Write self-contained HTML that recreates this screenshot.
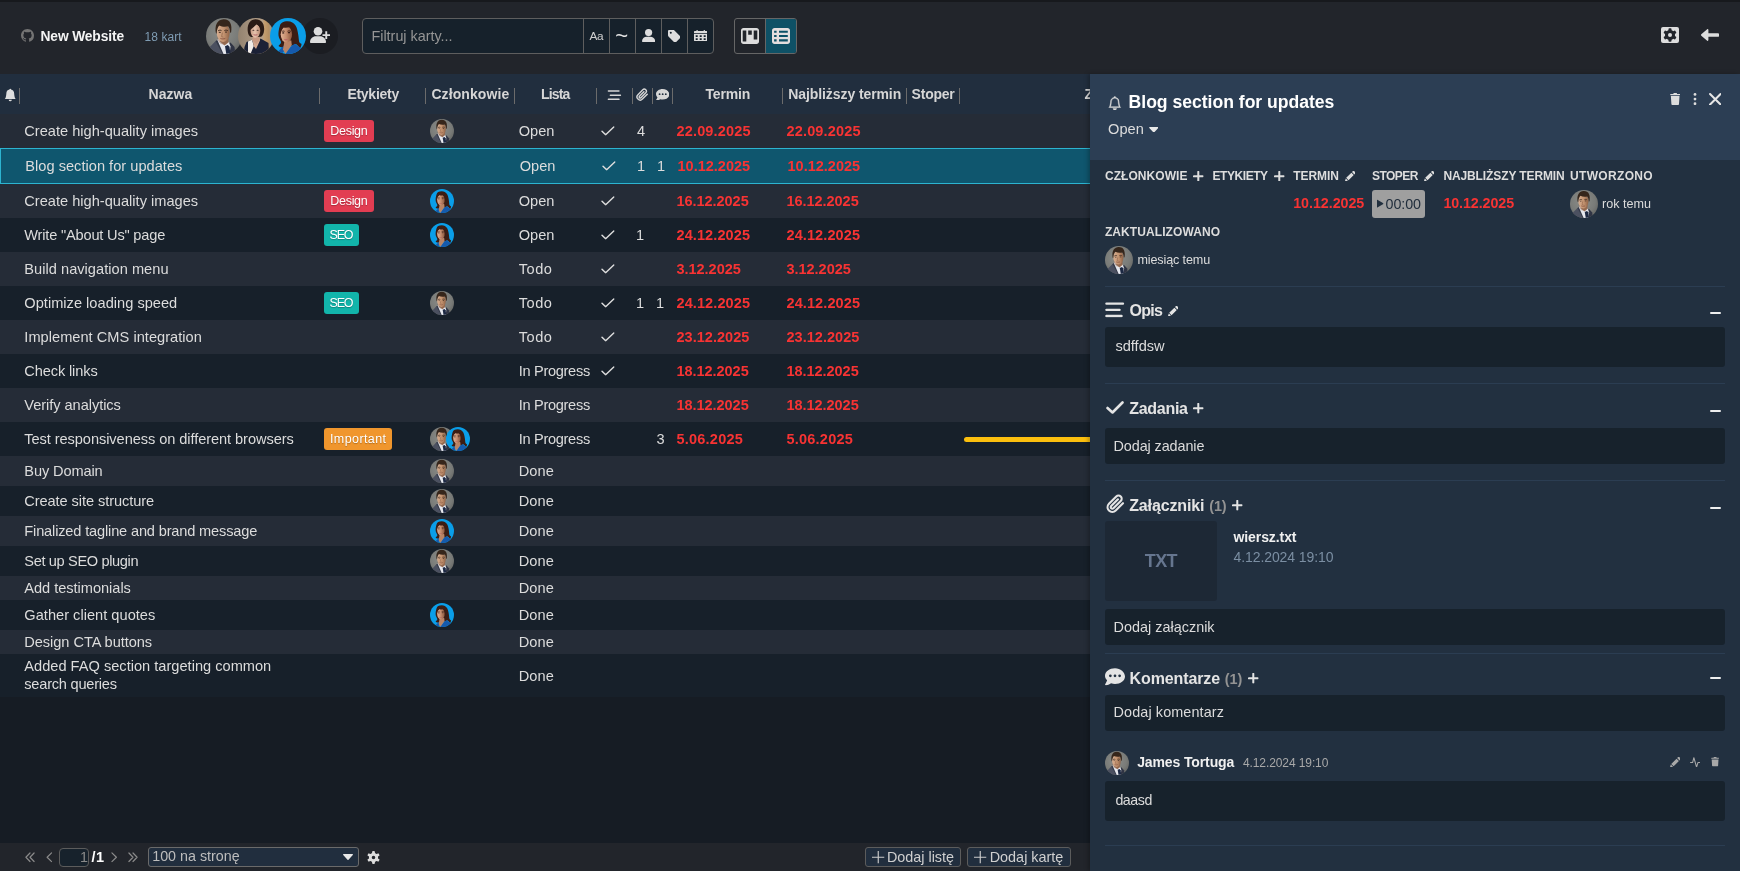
<!DOCTYPE html>
<html lang="pl">
<head>
<meta charset="utf-8">
<title>New Website</title>
<style>
html,body{margin:0;padding:0;background:#161c24}
body{width:1740px;height:871px;overflow:hidden;position:relative;font-family:"Liberation Sans",sans-serif;color:#dcdcdc}
#app{position:absolute;left:0;top:0;width:1740px;height:871px;overflow:hidden;background:#161c24;will-change:transform}
.topstrip{position:absolute;left:0;top:0;width:1740px;height:2px;background:#17191d;z-index:2}
.toolbar{position:absolute;left:0;top:0;width:1740px;height:74px;background:#22252b}
.table{position:absolute;left:0;top:0;width:1090px;height:843px;overflow:hidden}
.pager{position:absolute;left:0;top:0;width:1740px;height:871px;pointer-events:none}
.pager:before{content:"";position:absolute;left:0;top:843px;width:1090px;height:28px;background:#22252b}
.panel{position:absolute;left:0;top:0;width:1740px;height:871px}
.panel:before{content:"";position:absolute;left:1090px;top:74px;width:650px;height:797px;background:#223040;box-shadow:-2px 0 4px rgba(0,0,0,.25)}
.t{position:absolute;white-space:pre;margin:0}
.i{position:absolute;display:block;overflow:hidden;fill:currentColor}
.b{position:absolute;display:block;margin:0;padding:0}
.sep{background:#6b6b6b}
.filter{background:#16212b;border:1px solid #5e5e5e;border-radius:4px;box-sizing:border-box}
.filter .vl{background:#5e5e5e}
.toggle{border:1px solid #666;border-radius:3px;box-sizing:border-box;background:#22252b}
</style>
</head>
<body>
<svg width="0" height="0" style="position:absolute" aria-hidden="true">
<defs>
<radialGradient id="gm" cx="45%" cy="40%" r="75%"><stop offset="0" stop-color="#8c8e8a"/><stop offset=".6" stop-color="#797b78"/><stop offset="1" stop-color="#595a58"/></radialGradient>
<linearGradient id="gw" x1="0" x2="1" y1="0" y2="0"><stop offset="0" stop-color="#93826f"/><stop offset=".45" stop-color="#ab9883"/><stop offset=".68" stop-color="#b59f86"/><stop offset=".74" stop-color="#c39c6d"/><stop offset=".86" stop-color="#b38e62"/><stop offset=".9" stop-color="#a8947c"/><stop offset="1" stop-color="#8d7b68"/></linearGradient>
<linearGradient id="gskin1" x1="0" x2="1" y1="0" y2="0"><stop offset="0" stop-color="#d8ae90"/><stop offset=".55" stop-color="#c2926f"/><stop offset="1" stop-color="#8e6246"/></linearGradient>
<linearGradient id="gskin2" x1="0" x2="1" y1="0" y2="0"><stop offset="0" stop-color="#c79b84"/><stop offset=".45" stop-color="#e6c3ad"/><stop offset="1" stop-color="#b98a72"/></linearGradient>
<linearGradient id="gskin3" x1="0" x2="1" y1="0" y2="0"><stop offset="0" stop-color="#e2b396"/><stop offset=".5" stop-color="#c48c6d"/><stop offset="1" stop-color="#8a553c"/></linearGradient>
<clipPath id="cc"><circle cx="18" cy="18" r="18"/></clipPath>
<symbol id="av1" viewBox="0 0 36 36"><g clip-path="url(#cc)">
<rect width="36" height="36" fill="url(#gm)"/>
<path d="M2 31l7.600-8 4 .5 6 12.500H2z" fill="#4b5060"/>
<path d="M22 26l2.500-1.500 4 4.500.5 4-4 3h-3z" fill="#2f3444"/>
<path d="M9.600 23l1.800-1.300 8.400 14.300h-3.300z" fill="#343948"/>
<path d="M11.300 21.800l3.200-1.800 8.500 4.500 1.500 4-1 7.500h-6z" fill="#e6e8ee"/>
<path d="M19 28.200l2.800-1.300 1.700 1.800 1 7.300h-4.200z" fill="#1c2842"/>
<path d="M12.500 18h9.500l.5 6.500-4 3-4.500-4z" fill="#9c7156"/>
<ellipse cx="17.200" cy="14.800" rx="6.500" ry="9.100" fill="url(#gskin1)"/>
<path d="M10 15.500C8.400 8 10.800 1.500 17.500 1.200c6.300-.3 9 5 7.600 13.300l-.9.300c-.2-3-.8-5.200-2-6.500-2.700.8-6.500.5-8.900-.8-1.600 1.500-2.400 4-2.700 8z" fill="#36261b"/>
<path d="M12 12.900c1-.8 2.500-.9 3.500-.3M18.400 12.600c1.100-.7 2.600-.6 3.500.2" stroke="#33231a" stroke-width=".9" fill="none"/>
<ellipse cx="13.8" cy="14.3" rx="1.1" ry=".5" fill="#2a1d17"/><ellipse cx="20" cy="14.1" rx="1.1" ry=".5" fill="#2a1d17"/>
<path d="M16.400 14.600l-.8 4 1.800.5" stroke="#96694d" stroke-width=".8" fill="none"/>
<path d="M14.400 20.400c1.500.7 3.400.7 4.900 0" stroke="#84503e" stroke-width=".9" fill="none"/>
<path d="M11 17c.5 4 3 7 6 7.200 3-.1 5.600-3 6.400-7-.3 6-3 9.300-6.300 9.300s-5.800-3.500-6.100-9.500z" fill="#8a6048" opacity=".45"/>
</g></symbol>
<symbol id="av2" viewBox="0 0 36 36"><g clip-path="url(#cc)">
<rect width="36" height="36" fill="url(#gw)"/>
<path d="M5.500 36l1-7 2-5 5.500-2.200 3.500 8.200 5-9.500 8 4.500 .5 11z" fill="#1b2136"/>
<path d="M10 23.500l4-1.800 1.800 6.300-3.300 8H10z" fill="#f1ece8"/>
<path d="M14 21.500l1 2 .6 4.500 2.400 3 4-8.500-.8-3z" fill="#d3a78f"/>
<path d="M14.500 17.500h6.500l.3 5-3 3.500-3.500-3z" fill="#c79a83"/>
<path d="M9.700 13c-.6-7 2.600-11.700 8-11.700 5.500 0 9 4.400 8.400 11-.3 3.200-1.300 5.500-3 6.500l-10 .3c-2-.8-3.100-3-3.400-6.100z" fill="#2a1b16"/>
<ellipse cx="17.400" cy="12.800" rx="4.900" ry="6.900" fill="url(#gskin2)"/>
<path d="M12.300 12c-.4-4.500 1.500-7.500 5-7.700 3.300-.2 5.300 2 5.500 6.200-1.200-1.800-2.600-3.300-4.300-4.200-1.500 1.800-3.700 3.400-6.200 5.700z" fill="#2a1b16"/>
<ellipse cx="15.400" cy="12.300" rx="1" ry=".55" fill="#3b2a24"/><ellipse cx="19.600" cy="12.200" rx="1" ry=".55" fill="#3b2a24"/>
<path d="M15.700 16.600c1.100.6 2.500.6 3.600 0" stroke="#a8505a" stroke-width=".9" fill="none"/>
</g></symbol>
<symbol id="av3" viewBox="0 0 36 36"><g clip-path="url(#cc)">
<rect width="36" height="36" fill="#0a9ee8"/>
<path d="M17.700 3.200c-4.500 0-7.300 2-7.800 4.500-1.200 3.500-1.600 7-1.400 9.800.2 2.600 2 4.300 2.500 6.400.4 1.800-2.200 2.800-2.500 4.100 1.500 1.500 6.500 2 8.500 1.500l9-3.500c2 1.500 3.500 3.500 4 4.300.9-1.600 1.800-3.300 1.400-4.600-1-.4-1.800-.9-2.200-1.800-.5-2-.5-4.800-1-7.400-.5-3.500-1.200-6.800-2.700-9-1.600-2.600-4.300-4.300-7.800-4.300z" fill="#3b1d14"/>
<path d="M8.300 33.200l5.200-5.200 2.300 3.200-4.300 4.800zM15.400 36l4.600-6.600 4.600-3.700 6.400 4.600-2.800 4.100-6.200 1.600z" fill="#155aad"/>
<path d="M14.500 22.500h6.800l.5 4.500-6.400 9-2.400-4.500z" fill="#b98466"/>
<ellipse cx="16.400" cy="16.300" rx="5.700" ry="8.300" fill="url(#gskin3)"/>
<path d="M10.6 15c-.3-5 2-8.3 6.4-8.5 4.1-.2 6.700 2.800 7.100 8.500l-1.600 3.200c0-3.900-.9-7-2.800-9-2 .5-4.400.6-6.100.3-1.400 1.400-2.400 3.200-3 5.500z" fill="#3b1d14"/>
<path d="M11.800 13.600c.8-.6 2-.7 2.800-.3M17.500 13.300c1-.6 2.400-.5 3.300.1" stroke="#2e1710" stroke-width=".8" fill="none"/>
<ellipse cx="13.200" cy="14.900" rx="1.100" ry=".6" fill="#2a1510"/><ellipse cx="19" cy="14.700" rx="1.200" ry=".6" fill="#2a1510"/>
<path d="M14 21c1.200.8 2.800.8 3.800-.1-.4.900-1.100 1.400-2 1.400s-1.500-.5-1.800-1.300z" fill="#b24a64"/>
</g></symbol>
<symbol id="i-gh" viewBox="0 0 16 16"><path d="M8 0C3.58 0 0 3.58 0 8c0 3.540 2.290 6.530 5.470 7.590.4.070.55-.17.55-.38 0-.19-.010-.82-.010-1.490-2.010.37-2.530-.49-2.690-.94-.090-.23-.48-.94-.82-1.130-.28-.15-.68-.52-.010-.53.63-.010 1.080.58 1.230.82.72 1.210 1.870.87 2.330.66.070-.52.28-.87.51-1.070-1.780-.2-3.640-.89-3.640-3.950 0-.87.31-1.590.82-2.150-.080-.2-.36-1.020.080-2.120 0 0 .67-.21 2.200.82.640-.18 1.320-.27 2-.27s1.360.090 2 .27c1.530-1.040 2.200-.82 2.200-.82.440 1.100.16 1.920.080 2.120.51.56.82 1.270.82 2.150 0 3.070-1.870 3.750-3.650 3.950.29.25.54.73.54 1.480 0 1.070-.010 1.930-.010 2.200 0 .21.15.46.55.38A8.013 8.013 0 0 0 16 8c0-4.420-3.580-8-8-8z"/></symbol>
<symbol id="i-bell" viewBox="0 0 16 16"><path d="M8 16a2 2 0 0 0 2-2H6a2 2 0 0 0 2 2zm.995-14.901a1 1 0 1 0-1.990 0A5.002 5.002 0 0 0 3 6c0 1.098-.5 6-2 7h14c-1.500-1-2-5.902-2-7 0-2.420-1.720-4.440-4.005-4.901z"/></symbol>
<symbol id="i-bello" viewBox="0 0 16 16"><path stroke="currentColor" stroke-width=".55" d="M8 16a2 2 0 0 0 2-2H6a2 2 0 0 0 2 2zM8 1.918l-.797.161A4.002 4.002 0 0 0 4 6c0 .628-.134 2.197-.459 3.742-.16.767-.376 1.566-.663 2.258h10.244c-.287-.692-.502-1.490-.663-2.258C12.134 8.197 12 6.628 12 6a4.002 4.002 0 0 0-3.203-3.920L8 1.917zM14.220 12c.223.447.481.801.780 1H1c.299-.199.557-.553.780-1C2.680 10.200 3 6.880 3 6c0-2.420 1.720-4.440 4.005-4.901a1 1 0 1 1 1.990 0A5.002 5.002 0 0 1 13 6c0 .880.320 4.200 1.220 6z"/></symbol>
<symbol id="i-userplus" viewBox="0 0 20 16"><circle cx="8" cy="4.300" r="4.300"/><path d="M0 15.200C0 11.800 2.600 9.300 6 9.300h4c3.400 0 6 2.500 6 5.900 0 .5-.3.800-.8.800H.8c-.5 0-.8-.3-.8-.8z"/><path d="M15.300 4.300h1.900v2.900h2.800v1.900h-2.800V12h-1.900V9.100h-2.800V7.200h2.800z"/></symbol>
<symbol id="i-user" viewBox="0 0 13.2 13"><circle cx="6.600" cy="3.600" r="3.600"/><path d="M0 12.300C0 9.800 2 7.800 4.800 7.800h3.600c2.800 0 4.800 2 4.800 4.500 0 .4-.3.700-.7.700H.7c-.4 0-.7-.3-.7-.7z"/></symbol>
<symbol id="i-tag" viewBox="0 0 16 16"><path fill-rule="evenodd" d="M0 1.500C0 .700.700 0 1.500 0h5.400c.5 0 1 .2 1.400.6l7.100 7.100c.8.800.8 2 0 2.800l-4.900 4.900c-.8.800-2 .8-2.800 0L.6 8.300C.2 7.900 0 7.400 0 6.900zM3.600 2.300a1.300 1.300 0 1 0 0 2.600 1.300 1.300 0 0 0 0-2.600z"/></symbol>
<symbol id="i-cal" viewBox="0 0 13.4 11.2"><path fill-rule="evenodd" d="M2.500 0h1.200v1h6V0h1.200v1h1.500c.6 0 1 .4 1 1v1.200H0V2c0-.6.400-1 1-1h1.500zM0 3.900h13.400v6.300c0 .6-.4 1-1 1H1c-.6 0-1-.4-1-1zM1.700 5.200v1.800h2V5.200zM5.700 5.200v1.800h2V5.200zM9.700 5.200v1.800h2V5.200zM1.700 8.200v1.800h2V8.200zM5.700 8.200v1.800h2V8.200zM9.700 8.200v1.800h2V8.200z"/></symbol>
<symbol id="i-board" viewBox="0 0 18 16"><path fill-rule="evenodd" d="M2.500 0h13C16.900 0 18 1.100 18 2.500v11c0 1.400-1.100 2.500-2.500 2.500h-13C1.100 16 0 14.900 0 13.500v-11C0 1.100 1.100 0 2.500 0zM1.700 2.500v11h3.600v-11zM7.200 2.500v4.200h3.600V2.500zM12.700 2.500v9h3.600v-9z"/></symbol>
<symbol id="i-list" viewBox="0 0 18 16"><path fill-rule="evenodd" d="M2.500 0h13C16.900 0 18 1.100 18 2.500v11c0 1.400-1.100 2.500-2.500 2.500h-13C1.100 16 0 14.900 0 13.500v-11C0 1.100 1.100 0 2.500 0zM2.100 2.700v2.100h2.500V2.700zM7 2.700v2.100h8.800V2.700zM2.100 7v2.100h2.500V7zM7 7v2.100h8.800V7zM2.100 11.300v2.100h2.500v-2.100zM7 11.300v2.100h8.800v-2.100z"/></symbol>
<symbol id="i-gearbox" viewBox="0 0 18 16"><path fill-rule="evenodd" d="M2 0h14a2 2 0 0 1 2 2v12a2 2 0 0 1-2 2H2a2 2 0 0 1-2-2V2a2 2 0 0 1 2-2zM14.00 8.00L13.99 7.74L13.97 7.48L13.94 7.22L13.95 6.95L14.65 6.49L15.31 5.95L15.25 5.60L15.12 5.27L14.97 4.96L14.80 4.65L14.62 4.35L14.42 4.06L14.21 3.78L13.93 3.56L13.14 3.86L12.39 4.24L12.15 4.11L11.94 3.95L11.72 3.81L11.50 3.67L11.27 3.54L11.03 3.43L10.79 3.33L10.56 3.19L10.51 2.35L10.38 1.51L10.05 1.38L9.70 1.34L9.35 1.31L9.00 1.30L8.65 1.31L8.30 1.34L7.95 1.38L7.62 1.51L7.49 2.35L7.44 3.19L7.21 3.33L6.97 3.43L6.73 3.54L6.50 3.67L6.28 3.81L6.06 3.95L5.85 4.11L5.61 4.24L4.86 3.86L4.07 3.56L3.79 3.78L3.58 4.06L3.38 4.35L3.20 4.65L3.03 4.96L2.88 5.27L2.75 5.60L2.69 5.95L3.35 6.49L4.05 6.95L4.06 7.22L4.03 7.48L4.01 7.74L4.00 8.00L4.01 8.26L4.03 8.52L4.06 8.78L4.05 9.05L3.35 9.51L2.69 10.05L2.75 10.40L2.88 10.73L3.03 11.04L3.20 11.35L3.38 11.65L3.58 11.94L3.79 12.22L4.07 12.44L4.86 12.14L5.61 11.76L5.85 11.89L6.06 12.05L6.28 12.19L6.50 12.33L6.73 12.46L6.97 12.57L7.21 12.67L7.44 12.81L7.49 13.65L7.62 14.49L7.95 14.62L8.30 14.66L8.65 14.69L9.00 14.70L9.35 14.69L9.70 14.66L10.05 14.62L10.38 14.49L10.51 13.65L10.56 12.81L10.79 12.67L11.03 12.57L11.27 12.46L11.50 12.33L11.72 12.19L11.94 12.05L12.15 11.89L12.39 11.76L13.14 12.14L13.93 12.44L14.21 12.22L14.42 11.94L14.62 11.65L14.80 11.35L14.97 11.04L15.12 10.73L15.25 10.40L15.31 10.05L14.65 9.51L13.95 9.05L13.94 8.78L13.97 8.52L13.99 8.26z"/><circle cx="9" cy="8" r="2"/></symbol>
<symbol id="i-arrowl" viewBox="0 0 18 12"><path d="M6.200.3c.5-.5 1.200-.1 1.200.6v3.300h9.700c.5 0 .9.400.9.900v1.800c0 .5-.4.900-.9.900H7.400v3.300c0 .7-.7 1.100-1.200.6L.3 6.700c-.4-.4-.4-1 0-1.400z"/></symbol>
<symbol id="i-check" viewBox="0 0 14 10"><path d="M1 5.300l3.700 3.700L13 1" fill="none" stroke="currentColor" stroke-width="1.500" stroke-linecap="round" stroke-linejoin="round"/></symbol>
<symbol id="i-checkb" viewBox="0 0 18 13"><path d="M1.500 7l5 4.500L16.500 1.500" fill="none" stroke="currentColor" stroke-width="2.600" stroke-linecap="round" stroke-linejoin="round"/></symbol>
<symbol id="i-bars" viewBox="0 0 14 10"><path d="M1.4 1h10.2M3.3 5h9.800M1.4 9h10.2" fill="none" stroke="currentColor" stroke-width="1.5" stroke-linecap="round"/></symbol>
<symbol id="i-barsb" viewBox="0 0 20 16"><path d="M1.200 1.600h17M1.200 8h13.500M1.200 14.400h15.500" fill="none" stroke="currentColor" stroke-width="2.400" stroke-linecap="round"/></symbol>
<symbol id="i-clip" viewBox="0 0 24 24"><path d="M21.440 11.050l-9.190 9.190a6 6 0 0 1-8.490-8.490l9.190-9.190a4 4 0 0 1 5.660 5.660l-9.200 9.190a2 2 0 0 1-2.830-2.830l8.490-8.480" fill="none" stroke="currentColor" stroke-width="2.7" stroke-linecap="round" stroke-linejoin="round"/></symbol>
<symbol id="i-comment" viewBox="0 0 16 14"><path fill-rule="evenodd" d="M8 0C3.600 0 0 2.700 0 6c0 1.400.6 2.700 1.700 3.700C1.300 11.200.2 12.600.2 12.700c-.2.200-.2.400-.1.600.1.200.3.300.5.300 2 0 3.500-.9 4.300-1.500 1 .3 2 .5 3.100.5 4.400 0 8-2.700 8-6S12.400 0 8 0zM4.300 5a1.100 1.100 0 1 0 0 2.200 1.100 1.100 0 0 0 0-2.200zM8 5a1.100 1.100 0 1 0 0 2.200A1.100 1.100 0 0 0 8 5zM11.700 5a1.100 1.100 0 1 0 0 2.200 1.100 1.100 0 0 0 0-2.200z"/></symbol>
<symbol id="i-pencil" viewBox="0 0 12 12"><path d="M8.9.4c.5-.5 1.400-.5 1.900 0l.8.8c.5.5.5 1.400 0 1.900l-.8.8-2.700-2.700zM7.400 1.900l2.700 2.700-6 6-2.700-2.700zM.9 8.600l2.500 2.500-2.900.9c-.3.100-.6-.2-.5-.5z"/></symbol>
<symbol id="i-trash" viewBox="0 0 12 14"><path d="M4 .5c.1-.3.400-.5.700-.5h2.600c.3 0 .6.200.7.500l.2.500H11c.5 0 .9.300.9.800s-.4.700-.9.700H1c-.5 0-.9-.2-.9-.7S.5 1 1 1h2.800zM1 3.500h10l-.6 9.200c0 .7-.6 1.300-1.300 1.300H2.900c-.7 0-1.300-.6-1.300-1.300z"/></symbol>
<symbol id="i-dots" viewBox="0 0 4 14"><circle cx="2" cy="1.700" r="1.600"/><circle cx="2" cy="7" r="1.600"/><circle cx="2" cy="12.300" r="1.600"/></symbol>
<symbol id="i-x" viewBox="0 0 12 12"><path d="M1 1l10 10M11 1L1 11" fill="none" stroke="currentColor" stroke-width="1.900" stroke-linecap="round"/></symbol>
<symbol id="i-plus" viewBox="0 0 10 10"><path d="M5 .8v8.400M.8 5h8.400" fill="none" stroke="currentColor" stroke-width="1.900" stroke-linecap="round"/></symbol>
<symbol id="i-plusl" viewBox="0 0 12 12"><path d="M6 0v12M0 6h12" fill="none" stroke="currentColor" stroke-width="1.100"/></symbol>
<symbol id="i-caret" viewBox="0 0 10 6"><path d="M.6 0h8.800c.5 0 .8.600.4 1L5.500 5.700c-.3.300-.7.300-1 0L.2 1C-.2.600.1 0 .6 0z"/></symbol>
<symbol id="i-play" viewBox="0 0 8 10"><path d="M.4.300C.2.100 0 .3 0 .6v8.800c0 .3.200.5.400.3l7.300-4.300c.3-.2.300-.6 0-.8z"/></symbol>
<symbol id="i-activity" viewBox="0 0 12 12"><path d="M.6 6.200h2.300l1.400-5.400 3 10.400 1.500-5h2.600" fill="none" stroke="currentColor" stroke-width="1.200" stroke-linecap="round" stroke-linejoin="round"/></symbol>
<symbol id="i-gear" viewBox="0 0 14 14"><path fill-rule="evenodd" d="M11.90 7.00L11.89 6.74L11.87 6.49L11.84 6.23L11.86 5.97L12.70 5.47L13.49 4.89L13.44 4.53L13.30 4.19L13.15 3.87L12.98 3.55L12.79 3.24L12.58 2.94L12.36 2.66L12.07 2.43L11.17 2.83L10.33 3.30L10.08 3.19L9.88 3.04L9.67 2.89L9.45 2.76L9.22 2.63L8.99 2.52L8.76 2.43L8.54 2.27L8.53 1.30L8.42 0.32L8.08 0.18L7.72 0.14L7.36 0.11L7.00 0.10L6.64 0.11L6.28 0.14L5.92 0.18L5.58 0.32L5.47 1.30L5.46 2.27L5.24 2.43L5.01 2.52L4.78 2.63L4.55 2.76L4.33 2.89L4.12 3.04L3.92 3.19L3.67 3.30L2.83 2.83L1.93 2.43L1.64 2.66L1.42 2.94L1.21 3.24L1.02 3.55L0.85 3.87L0.70 4.19L0.56 4.53L0.51 4.89L1.30 5.47L2.14 5.97L2.16 6.23L2.13 6.49L2.11 6.74L2.10 7.00L2.11 7.26L2.13 7.51L2.16 7.77L2.14 8.03L1.30 8.53L0.51 9.11L0.56 9.47L0.70 9.81L0.85 10.13L1.02 10.45L1.21 10.76L1.42 11.06L1.64 11.34L1.93 11.57L2.83 11.17L3.67 10.70L3.92 10.81L4.12 10.96L4.33 11.11L4.55 11.24L4.78 11.37L5.01 11.48L5.24 11.57L5.46 11.73L5.47 12.70L5.58 13.68L5.92 13.82L6.28 13.86L6.64 13.89L7.00 13.90L7.36 13.89L7.72 13.86L8.08 13.82L8.42 13.68L8.53 12.70L8.54 11.73L8.76 11.57L8.99 11.48L9.22 11.37L9.45 11.24L9.67 11.11L9.88 10.96L10.08 10.81L10.33 10.70L11.17 11.17L12.07 11.57L12.36 11.34L12.58 11.06L12.79 10.76L12.98 10.45L13.15 10.13L13.30 9.81L13.44 9.47L13.49 9.11L12.70 8.53L11.86 8.03L11.84 7.77L11.87 7.51L11.89 7.26zM7 5.100a1.900 1.900 0 1 0 0 3.800 1.900 1.900 0 0 0 0-3.800z"/></symbol>
<symbol id="i-chev" viewBox="0 0 7 11"><path d="M6 .8L1.200 5.500 6 10.200" fill="none" stroke="currentColor" stroke-width="1.300" stroke-linecap="round" stroke-linejoin="round"/></symbol>
<symbol id="i-chev2" viewBox="0 0 11 11"><path d="M5.500 .8L1 5.500l4.500 4.700M10 .8L5.500 5.500l4.500 4.700" fill="none" stroke="currentColor" stroke-width="1.300" stroke-linecap="round" stroke-linejoin="round"/></symbol>
</defs>
</svg>

<div id="app">
<div class="topstrip"></div>
<header class="toolbar">
<svg class="i" style="left:20.5px;top:29.3px;width:13px;height:13px;color:#747474;fill:#747474"><use href="#i-gh"/></svg>
<span class="t" style="left:40.5px;top:27.9px;font-size:13.8px;line-height:17px;font-weight:700;color:#f4f4f4;letter-spacing:-0.13px">New Website</span>
<span class="t" style="left:144.6px;top:29.9px;font-size:12px;line-height:14px;color:#7f9cb3;letter-spacing:0.05px">18 kart</span>
<div class="members">
<svg class="i av" style="left:206px;top:18px;width:36px;height:36px"><use href="#av1"/></svg>
<svg class="i av" style="left:238px;top:18px;width:36px;height:36px"><use href="#av2"/></svg>
<div class="b" style="left:302px;top:18px;width:36px;height:36px;background:#1b1d22;border-radius:50%"></div>
<svg class="i av" style="left:270px;top:18px;width:36px;height:36px"><use href="#av3"/></svg>
<svg class="i" style="left:309.8px;top:27.0px;width:20px;height:16px;color:#dddddd;fill:#dddddd"><use href="#i-userplus"/></svg>
</div>
<div class="b filter" style="left:362px;top:18px;width:352px;height:36px">
<i class="b vl" style="left:220px;top:0;width:1px;height:34px"></i>
<i class="b vl" style="left:246px;top:0;width:1px;height:34px"></i>
<i class="b vl" style="left:272px;top:0;width:1px;height:34px"></i>
<i class="b vl" style="left:298px;top:0;width:1px;height:34px"></i>
<i class="b vl" style="left:324px;top:0;width:1px;height:34px"></i>
</div>
<span class="t" style="left:371.5px;top:28.0px;font-size:14.4px;line-height:17px;color:#959595;letter-spacing:-0.02px">Filtruj karty...</span>
<span class="t" style="left:589.6px;top:28.9px;font-size:11.8px;line-height:14px;color:#d0d0d0;letter-spacing:-0.53px">Aa</span>
<span class="t" style="left:615.3px;top:22.6px;font-size:22px;line-height:26px;color:#e6e6e6">~</span>
<svg class="i" style="left:641.9px;top:29.0px;width:13.2px;height:13px;color:#dddddd;fill:#dddddd"><use href="#i-user"/></svg>
<svg class="i" style="left:668.0px;top:29.6px;width:12.4px;height:12.4px;color:#dddddd;fill:#dddddd"><use href="#i-tag"/></svg>
<svg class="i" style="left:693.8px;top:29.9px;width:13.4px;height:11.2px;color:#dddddd;fill:#dddddd"><use href="#i-cal"/></svg>
<div class="b toggle" style="left:734px;top:18px;width:63px;height:36px">
<i class="b" style="left:30px;top:0;width:30px;height:34px;background:#0e5166;border-left:1px solid #666;border-radius:0 2px 2px 0"></i>
</div>
<svg class="i" style="left:741.0px;top:28.0px;width:18px;height:16px;color:#dddddd;fill:#dddddd"><use href="#i-board"/></svg>
<svg class="i" style="left:772.0px;top:28.0px;width:18px;height:16px;color:#e4dede;fill:#e4dede"><use href="#i-list"/></svg>
<svg class="i" style="left:1661.0px;top:27.0px;width:18px;height:16px;color:#dddddd;fill:#dddddd"><use href="#i-gearbox"/></svg>
<svg class="i" style="left:1701.0px;top:29.0px;width:18px;height:12px;color:#dddddd;fill:#dddddd"><use href="#i-arrowl"/></svg>
</header>
<main class="table">
<div class="b thead" style="left:0px;top:74px;width:1090px;height:40px;background:#212e3e"></div>
<svg class="i" style="left:4.0px;top:88.0px;width:12.5px;height:14px;color:#dddddd;fill:#dddddd"><use href="#i-bell"/></svg>
<i class="b sep" style="left:19px;top:88px;width:1px;height:16px"></i>
<i class="b sep" style="left:319px;top:88px;width:1px;height:16px"></i>
<i class="b sep" style="left:425px;top:88px;width:1px;height:16px"></i>
<i class="b sep" style="left:514px;top:88px;width:1px;height:16px"></i>
<i class="b sep" style="left:596px;top:88px;width:1px;height:16px"></i>
<i class="b sep" style="left:632px;top:88px;width:1px;height:16px"></i>
<i class="b sep" style="left:652px;top:88px;width:1px;height:16px"></i>
<i class="b sep" style="left:672px;top:88px;width:1px;height:16px"></i>
<i class="b sep" style="left:782px;top:88px;width:1px;height:16px"></i>
<i class="b sep" style="left:906px;top:88px;width:1px;height:16px"></i>
<i class="b sep" style="left:959px;top:88px;width:1px;height:16px"></i>
<span class="t" style="left:148.5px;top:85.8px;font-size:14px;line-height:17px;font-weight:700;color:#d6d6d6;letter-spacing:0.03px">Nazwa</span>
<span class="t" style="left:347.4px;top:85.8px;font-size:14px;line-height:17px;font-weight:700;color:#d6d6d6;letter-spacing:-0.27px">Etykiety</span>
<span class="t" style="left:431.4px;top:85.8px;font-size:14px;line-height:17px;font-weight:700;color:#d6d6d6;letter-spacing:0.09px">Członkowie</span>
<span class="t" style="left:541.1px;top:85.8px;font-size:14px;line-height:17px;font-weight:700;color:#d6d6d6;letter-spacing:-0.87px">Lista</span>
<svg class="i" style="left:607.2px;top:89.6px;width:14.4px;height:10.3px;color:#d6d6d6;fill:#d6d6d6"><use href="#i-bars"/></svg>
<svg class="i" style="left:636.4px;top:87.8px;width:12.6px;height:13.6px;color:#d6d6d6;fill:#d6d6d6"><use href="#i-clip"/></svg>
<svg class="i" style="left:655.8px;top:88.5px;width:13.4px;height:11.8px;color:#d6d6d6;fill:#d6d6d6"><use href="#i-comment"/></svg>
<span class="t" style="left:705.4px;top:85.8px;font-size:14px;line-height:17px;font-weight:700;color:#d6d6d6;letter-spacing:-0.15px">Termin</span>
<span class="t" style="left:788.3px;top:85.8px;font-size:14px;line-height:17px;font-weight:700;color:#d6d6d6;letter-spacing:-0.09px">Najbliższy termin</span>
<span class="t" style="left:911.6px;top:85.8px;font-size:14px;line-height:17px;font-weight:700;color:#d6d6d6;letter-spacing:-0.23px">Stoper</span>
<span class="t" style="left:1084.5px;top:85.8px;font-size:14px;line-height:17px;font-weight:700;color:#d6d6d6">Z</span>
<div class="b row" style="left:0px;top:114px;width:1090px;height:34px;background:#252c37"></div>
<span class="t" style="left:24.3px;top:122.4px;font-size:14.6px;line-height:18px;color:#dcdcdc;letter-spacing:0.01px">Create high-quality images</span>
<div class="b lab" style="left:324px;top:120px;width:50px;height:22px;background:#e23d52;border-radius:3px"></div>
<span class="t" style="left:330.3px;top:123.8px;font-size:12.5px;line-height:15px;color:#ffffff;letter-spacing:-0.30px;text-shadow:0 1px 1px rgba(0,0,0,.28)">Design</span>
<svg class="i av" style="left:430px;top:119px;width:24px;height:24px"><use href="#av1"/></svg>
<span class="t" style="left:518.7px;top:122.4px;font-size:14.6px;line-height:18px;color:#dcdcdc;letter-spacing:-0.01px">Open</span>
<svg class="i" style="left:601.3px;top:126.4px;width:13.8px;height:9.8px;color:#dcdcdc;fill:#dcdcdc"><use href="#i-check"/></svg>
<span class="t" style="left:637.0px;top:122.4px;font-size:14.6px;line-height:18px;color:#dcdcdc">4</span>
<span class="t" style="left:676.5px;top:123.0px;font-size:14.5px;line-height:17px;font-weight:700;color:#f83333;letter-spacing:0.16px">22.09.2025</span>
<span class="t" style="left:786.5px;top:123.0px;font-size:14.5px;line-height:17px;font-weight:700;color:#f83333;letter-spacing:0.16px">22.09.2025</span>
<div class="b row" style="left:0px;top:148px;width:1100px;height:36px;background:#0f566e;border:1px solid #2cb4d0;box-sizing:border-box"></div>
<span class="t" style="left:25.3px;top:157.4px;font-size:14.6px;line-height:18px;color:#dcdcdc;letter-spacing:0.02px">Blog section for updates</span>
<span class="t" style="left:519.7px;top:157.4px;font-size:14.6px;line-height:18px;color:#dcdcdc;letter-spacing:-0.01px">Open</span>
<svg class="i" style="left:602.3px;top:161.4px;width:13.8px;height:9.8px;color:#dcdcdc;fill:#dcdcdc"><use href="#i-check"/></svg>
<span class="t" style="left:637.0px;top:157.4px;font-size:14.6px;line-height:18px;color:#dcdcdc">1</span>
<span class="t" style="left:657.0px;top:157.4px;font-size:14.6px;line-height:18px;color:#dcdcdc">1</span>
<span class="t" style="left:677.5px;top:158.0px;font-size:14.5px;line-height:17px;font-weight:700;color:#f83333;letter-spacing:0.01px">10.12.2025</span>
<span class="t" style="left:787.5px;top:158.0px;font-size:14.5px;line-height:17px;font-weight:700;color:#f83333;letter-spacing:0.01px">10.12.2025</span>
<div class="b row" style="left:0px;top:184px;width:1090px;height:34px;background:#252c37"></div>
<span class="t" style="left:24.3px;top:192.4px;font-size:14.6px;line-height:18px;color:#dcdcdc;letter-spacing:0.01px">Create high-quality images</span>
<div class="b lab" style="left:324px;top:190px;width:50px;height:22px;background:#e23d52;border-radius:3px"></div>
<span class="t" style="left:330.3px;top:193.8px;font-size:12.5px;line-height:15px;color:#ffffff;letter-spacing:-0.30px;text-shadow:0 1px 1px rgba(0,0,0,.28)">Design</span>
<svg class="i av" style="left:430px;top:189px;width:24px;height:24px"><use href="#av3"/></svg>
<span class="t" style="left:518.7px;top:192.4px;font-size:14.6px;line-height:18px;color:#dcdcdc;letter-spacing:-0.01px">Open</span>
<svg class="i" style="left:601.3px;top:196.4px;width:13.8px;height:9.8px;color:#dcdcdc;fill:#dcdcdc"><use href="#i-check"/></svg>
<span class="t" style="left:676.5px;top:193.0px;font-size:14.5px;line-height:17px;font-weight:700;color:#f83333;letter-spacing:-0.04px">16.12.2025</span>
<span class="t" style="left:786.5px;top:193.0px;font-size:14.5px;line-height:17px;font-weight:700;color:#f83333;letter-spacing:-0.04px">16.12.2025</span>
<div class="b row" style="left:0px;top:218px;width:1090px;height:34px;background:#17202a"></div>
<span class="t" style="left:24.3px;top:226.4px;font-size:14.6px;line-height:18px;color:#dcdcdc;letter-spacing:-0.19px">Write "About Us" page</span>
<div class="b lab" style="left:324px;top:224px;width:35px;height:22px;background:#12b5ab;border-radius:3px"></div>
<span class="t" style="left:329.6px;top:227.8px;font-size:12.5px;line-height:15px;color:#ffffff;letter-spacing:-1.30px;text-shadow:0 1px 1px rgba(0,0,0,.28)">SEO</span>
<svg class="i av" style="left:430px;top:223px;width:24px;height:24px"><use href="#av3"/></svg>
<span class="t" style="left:518.7px;top:226.4px;font-size:14.6px;line-height:18px;color:#dcdcdc;letter-spacing:-0.01px">Open</span>
<svg class="i" style="left:601.3px;top:230.4px;width:13.8px;height:9.8px;color:#dcdcdc;fill:#dcdcdc"><use href="#i-check"/></svg>
<span class="t" style="left:636.0px;top:226.4px;font-size:14.6px;line-height:18px;color:#dcdcdc">1</span>
<span class="t" style="left:676.5px;top:227.0px;font-size:14.5px;line-height:17px;font-weight:700;color:#f83333;letter-spacing:0.10px">24.12.2025</span>
<span class="t" style="left:786.5px;top:227.0px;font-size:14.5px;line-height:17px;font-weight:700;color:#f83333;letter-spacing:0.10px">24.12.2025</span>
<div class="b row" style="left:0px;top:252px;width:1090px;height:34px;background:#252c37"></div>
<span class="t" style="left:24.3px;top:260.4px;font-size:14.6px;line-height:18px;color:#dcdcdc;letter-spacing:0.03px">Build navigation menu</span>
<span class="t" style="left:518.7px;top:260.4px;font-size:14.6px;line-height:18px;color:#dcdcdc;letter-spacing:0.55px">Todo</span>
<svg class="i" style="left:601.3px;top:264.4px;width:13.8px;height:9.8px;color:#dcdcdc;fill:#dcdcdc"><use href="#i-check"/></svg>
<span class="t" style="left:676.5px;top:261.0px;font-size:14.5px;line-height:17px;font-weight:700;color:#f83333;letter-spacing:-0.03px">3.12.2025</span>
<span class="t" style="left:786.5px;top:261.0px;font-size:14.5px;line-height:17px;font-weight:700;color:#f83333;letter-spacing:-0.03px">3.12.2025</span>
<div class="b row" style="left:0px;top:286px;width:1090px;height:34px;background:#17202a"></div>
<span class="t" style="left:24.3px;top:294.4px;font-size:14.6px;line-height:18px;color:#dcdcdc;letter-spacing:0.02px">Optimize loading speed</span>
<div class="b lab" style="left:324px;top:292px;width:35px;height:22px;background:#12b5ab;border-radius:3px"></div>
<span class="t" style="left:329.6px;top:295.8px;font-size:12.5px;line-height:15px;color:#ffffff;letter-spacing:-1.30px;text-shadow:0 1px 1px rgba(0,0,0,.28)">SEO</span>
<svg class="i av" style="left:430px;top:291px;width:24px;height:24px"><use href="#av1"/></svg>
<span class="t" style="left:518.7px;top:294.4px;font-size:14.6px;line-height:18px;color:#dcdcdc;letter-spacing:0.55px">Todo</span>
<svg class="i" style="left:601.3px;top:298.4px;width:13.8px;height:9.8px;color:#dcdcdc;fill:#dcdcdc"><use href="#i-check"/></svg>
<span class="t" style="left:636.0px;top:294.4px;font-size:14.6px;line-height:18px;color:#dcdcdc">1</span>
<span class="t" style="left:656.0px;top:294.4px;font-size:14.6px;line-height:18px;color:#dcdcdc">1</span>
<span class="t" style="left:676.5px;top:295.0px;font-size:14.5px;line-height:17px;font-weight:700;color:#f83333;letter-spacing:0.10px">24.12.2025</span>
<span class="t" style="left:786.5px;top:295.0px;font-size:14.5px;line-height:17px;font-weight:700;color:#f83333;letter-spacing:0.10px">24.12.2025</span>
<div class="b row" style="left:0px;top:320px;width:1090px;height:34px;background:#252c37"></div>
<span class="t" style="left:24.3px;top:328.4px;font-size:14.6px;line-height:18px;color:#dcdcdc;letter-spacing:0.03px">Implement CMS integration</span>
<span class="t" style="left:518.7px;top:328.4px;font-size:14.6px;line-height:18px;color:#dcdcdc;letter-spacing:0.55px">Todo</span>
<svg class="i" style="left:601.3px;top:332.4px;width:13.8px;height:9.8px;color:#dcdcdc;fill:#dcdcdc"><use href="#i-check"/></svg>
<span class="t" style="left:676.5px;top:329.0px;font-size:14.5px;line-height:17px;font-weight:700;color:#f83333;letter-spacing:0.03px">23.12.2025</span>
<span class="t" style="left:786.5px;top:329.0px;font-size:14.5px;line-height:17px;font-weight:700;color:#f83333;letter-spacing:0.03px">23.12.2025</span>
<div class="b row" style="left:0px;top:354px;width:1090px;height:34px;background:#17202a"></div>
<span class="t" style="left:24.3px;top:362.4px;font-size:14.6px;line-height:18px;color:#dcdcdc;letter-spacing:-0.12px">Check links</span>
<span class="t" style="left:518.7px;top:362.4px;font-size:14.6px;line-height:18px;color:#dcdcdc;letter-spacing:-0.31px">In Progress</span>
<svg class="i" style="left:601.3px;top:366.4px;width:13.8px;height:9.8px;color:#dcdcdc;fill:#dcdcdc"><use href="#i-check"/></svg>
<span class="t" style="left:676.5px;top:363.0px;font-size:14.5px;line-height:17px;font-weight:700;color:#f83333;letter-spacing:-0.04px">18.12.2025</span>
<span class="t" style="left:786.5px;top:363.0px;font-size:14.5px;line-height:17px;font-weight:700;color:#f83333;letter-spacing:-0.04px">18.12.2025</span>
<div class="b row" style="left:0px;top:388px;width:1090px;height:34px;background:#252c37"></div>
<span class="t" style="left:24.3px;top:396.4px;font-size:14.6px;line-height:18px;color:#dcdcdc;letter-spacing:-0.05px">Verify analytics</span>
<span class="t" style="left:518.7px;top:396.4px;font-size:14.6px;line-height:18px;color:#dcdcdc;letter-spacing:-0.31px">In Progress</span>
<span class="t" style="left:676.5px;top:397.0px;font-size:14.5px;line-height:17px;font-weight:700;color:#f83333;letter-spacing:-0.04px">18.12.2025</span>
<span class="t" style="left:786.5px;top:397.0px;font-size:14.5px;line-height:17px;font-weight:700;color:#f83333;letter-spacing:-0.04px">18.12.2025</span>
<div class="b row" style="left:0px;top:422px;width:1090px;height:34px;background:#17202a"></div>
<span class="t" style="left:24.3px;top:430.4px;font-size:14.6px;line-height:18px;color:#dcdcdc;letter-spacing:-0.07px">Test responsiveness on different browsers</span>
<div class="b lab" style="left:324px;top:428px;width:68px;height:22px;background:#f0962d;border-radius:3px"></div>
<span class="t" style="left:330.0px;top:431.8px;font-size:12.5px;line-height:15px;color:#ffffff;letter-spacing:0.40px;text-shadow:0 1px 1px rgba(0,0,0,.28)">Important</span>
<svg class="i av" style="left:430px;top:427px;width:24px;height:24px"><use href="#av1"/></svg>
<svg class="i av" style="left:446px;top:427px;width:24px;height:24px"><use href="#av3"/></svg>
<span class="t" style="left:518.7px;top:430.4px;font-size:14.6px;line-height:18px;color:#dcdcdc;letter-spacing:-0.31px">In Progress</span>
<span class="t" style="left:656.4px;top:430.4px;font-size:14.6px;line-height:18px;color:#dcdcdc">3</span>
<span class="t" style="left:676.5px;top:431.0px;font-size:14.5px;line-height:17px;font-weight:700;color:#f83333;letter-spacing:0.22px">5.06.2025</span>
<span class="t" style="left:786.5px;top:431.0px;font-size:14.5px;line-height:17px;font-weight:700;color:#f83333;letter-spacing:0.22px">5.06.2025</span>
<div class="b" style="left:964px;top:437px;width:126px;height:5px;background:#fbbf0e;border-radius:2.5px 0 0 2.5px"></div>
<div class="b row" style="left:0px;top:456px;width:1090px;height:30px;background:#252c37"></div>
<span class="t" style="left:24.3px;top:462.4px;font-size:14.6px;line-height:18px;color:#dcdcdc;letter-spacing:-0.12px">Buy Domain</span>
<svg class="i av" style="left:430px;top:459px;width:24px;height:24px"><use href="#av1"/></svg>
<span class="t" style="left:518.7px;top:462.4px;font-size:14.6px;line-height:18px;color:#dcdcdc;letter-spacing:0.13px">Done</span>
<div class="b row" style="left:0px;top:486px;width:1090px;height:30px;background:#17202a"></div>
<span class="t" style="left:24.3px;top:492.4px;font-size:14.6px;line-height:18px;color:#dcdcdc;letter-spacing:-0.08px">Create site structure</span>
<svg class="i av" style="left:430px;top:489px;width:24px;height:24px"><use href="#av1"/></svg>
<span class="t" style="left:518.7px;top:492.4px;font-size:14.6px;line-height:18px;color:#dcdcdc;letter-spacing:0.13px">Done</span>
<div class="b row" style="left:0px;top:516px;width:1090px;height:30px;background:#252c37"></div>
<span class="t" style="left:24.3px;top:522.4px;font-size:14.6px;line-height:18px;color:#dcdcdc;letter-spacing:-0.16px">Finalized tagline and brand message</span>
<svg class="i av" style="left:430px;top:519px;width:24px;height:24px"><use href="#av3"/></svg>
<span class="t" style="left:518.7px;top:522.4px;font-size:14.6px;line-height:18px;color:#dcdcdc;letter-spacing:0.13px">Done</span>
<div class="b row" style="left:0px;top:546px;width:1090px;height:30px;background:#17202a"></div>
<span class="t" style="left:24.3px;top:552.4px;font-size:14.6px;line-height:18px;color:#dcdcdc;letter-spacing:-0.36px">Set up SEO plugin</span>
<svg class="i av" style="left:430px;top:549px;width:24px;height:24px"><use href="#av1"/></svg>
<span class="t" style="left:518.7px;top:552.4px;font-size:14.6px;line-height:18px;color:#dcdcdc;letter-spacing:0.13px">Done</span>
<div class="b row" style="left:0px;top:576px;width:1090px;height:24px;background:#252c37"></div>
<span class="t" style="left:24.3px;top:579.4px;font-size:14.6px;line-height:18px;color:#dcdcdc;letter-spacing:-0.03px">Add testimonials</span>
<span class="t" style="left:518.7px;top:579.4px;font-size:14.6px;line-height:18px;color:#dcdcdc;letter-spacing:0.13px">Done</span>
<div class="b row" style="left:0px;top:600px;width:1090px;height:30px;background:#17202a"></div>
<span class="t" style="left:24.3px;top:606.4px;font-size:14.6px;line-height:18px;color:#dcdcdc;letter-spacing:0.02px">Gather client quotes</span>
<svg class="i av" style="left:430px;top:603px;width:24px;height:24px"><use href="#av3"/></svg>
<span class="t" style="left:518.7px;top:606.4px;font-size:14.6px;line-height:18px;color:#dcdcdc;letter-spacing:0.13px">Done</span>
<div class="b row" style="left:0px;top:630px;width:1090px;height:24px;background:#252c37"></div>
<span class="t" style="left:24.3px;top:633.4px;font-size:14.6px;line-height:18px;color:#dcdcdc;letter-spacing:-0.05px">Design CTA buttons</span>
<span class="t" style="left:518.7px;top:633.4px;font-size:14.6px;line-height:18px;color:#dcdcdc;letter-spacing:0.13px">Done</span>
<div class="b row" style="left:0px;top:654px;width:1090px;height:43px;background:#17202a"></div>
<span class="t" style="left:24.3px;top:657.0px;font-size:14.6px;line-height:18px;color:#dcdcdc;letter-spacing:0.01px">Added FAQ section targeting common</span>
<span class="t" style="left:24.3px;top:675.0px;font-size:14.6px;line-height:18px;color:#dcdcdc;letter-spacing:-0.23px">search queries</span>
<span class="t" style="left:518.7px;top:666.9px;font-size:14.6px;line-height:18px;color:#dcdcdc;letter-spacing:0.13px">Done</span>
</main>
<footer class="pager">
<svg class="i" style="left:24.5px;top:852.0px;width:10px;height:10.5px;color:#8a8a8a;fill:#8a8a8a"><use href="#i-chev2"/></svg>
<svg class="i" style="left:46.0px;top:852.0px;width:6.5px;height:10.5px;color:#8a8a8a;fill:#8a8a8a"><use href="#i-chev"/></svg>
<div class="b" style="left:59px;top:848px;width:30px;height:19px;background:#17222c;border:1px solid #5c5c5c;border-radius:4px;box-sizing:border-box"></div>
<span class="t" style="left:80.0px;top:848.8px;font-size:14.3px;line-height:17px;color:#8a8a8a">1</span>
<span class="t" style="left:91.4px;top:848.8px;font-size:14.5px;line-height:17px;font-weight:700;color:#ffffff;letter-spacing:0.51px">/1</span>
<svg class="i" style="left:110.5px;top:852.0px;width:6.5px;height:10.5px;color:#8a8a8a;fill:#8a8a8a;transform:scaleX(-1)"><use href="#i-chev"/></svg>
<svg class="i" style="left:128.3px;top:852.0px;width:10px;height:10.5px;color:#8a8a8a;fill:#8a8a8a;transform:scaleX(-1)"><use href="#i-chev2"/></svg>
<div class="b" style="left:148px;top:847px;width:211px;height:20px;background:#212e3e;border:1px solid #6a6a6a;border-radius:3px;box-sizing:border-box"></div>
<span class="t" style="left:152.2px;top:847.7px;font-size:14.3px;line-height:17px;color:#bdbdbd">100 na stronę</span>
<svg class="i" style="left:343.0px;top:853.9px;width:10px;height:6px;color:#e8e8e8;fill:#e8e8e8"><use href="#i-caret"/></svg>
<svg class="i" style="left:367.0px;top:851.3px;width:13px;height:13px;color:#dddddd;fill:#dddddd"><use href="#i-gear"/></svg>
<div class="b" style="left:865px;top:847px;width:96px;height:20px;background:#212e3e;border:1px solid #5c5c5c;border-radius:3px;box-sizing:border-box"></div>
<div class="b" style="left:967px;top:847px;width:104px;height:20px;background:#212e3e;border:1px solid #5c5c5c;border-radius:3px;box-sizing:border-box"></div>
<svg class="i" style="left:872.0px;top:851.0px;width:12.5px;height:12.5px;color:#cccccc;fill:#cccccc"><use href="#i-plusl"/></svg>
<span class="t" style="left:887.0px;top:848.8px;font-size:14.4px;line-height:17px;color:#cfcfcf;letter-spacing:-0.02px">Dodaj listę</span>
<svg class="i" style="left:974.0px;top:851.0px;width:12.5px;height:12.5px;color:#cccccc;fill:#cccccc"><use href="#i-plusl"/></svg>
<span class="t" style="left:989.7px;top:848.8px;font-size:14.4px;line-height:17px;color:#cfcfcf;letter-spacing:0.01px">Dodaj kartę</span>
</footer>
<aside class="panel">
<div class="b phead" style="left:1090px;top:74px;width:650px;height:86px;background:#2c3e54"></div>
<svg class="i" style="left:1108.3px;top:95.6px;width:13.6px;height:14.6px;color:#dddddd;fill:#dddddd"><use href="#i-bello"/></svg>
<span class="t" style="left:1128.6px;top:91.9px;font-size:17.6px;line-height:21px;font-weight:700;color:#ffffff;letter-spacing:-0.02px">Blog section for updates</span>
<span class="t" style="left:1108.1px;top:120.2px;font-size:14.6px;line-height:18px;color:#dcdcdc;letter-spacing:-0.01px">Open</span>
<svg class="i" style="left:1148.5px;top:126.5px;width:9.6px;height:5.6px;color:#e8e8e8;fill:#e8e8e8"><use href="#i-caret"/></svg>
<svg class="i" style="left:1669.8px;top:93.0px;width:10.4px;height:12.2px;color:#dddddd;fill:#dddddd"><use href="#i-trash"/></svg>
<svg class="i" style="left:1693.0px;top:93.0px;width:4px;height:12.2px;color:#dddddd;fill:#dddddd"><use href="#i-dots"/></svg>
<svg class="i" style="left:1708.6px;top:92.8px;width:12.6px;height:12.6px;color:#e6e6e6;fill:#e6e6e6"><use href="#i-x"/></svg>
<span class="t" style="left:1104.9px;top:169.1px;font-size:12px;line-height:14px;font-weight:700;color:#dddddd;letter-spacing:0.07px">CZŁONKOWIE</span>
<svg class="i" style="left:1193.0px;top:170.6px;width:10.6px;height:10.6px;color:#dddddd;fill:#dddddd"><use href="#i-plus"/></svg>
<span class="t" style="left:1212.5px;top:169.1px;font-size:12px;line-height:14px;font-weight:700;color:#dddddd;letter-spacing:-0.44px">ETYKIETY</span>
<svg class="i" style="left:1274.0px;top:170.6px;width:10.6px;height:10.6px;color:#dddddd;fill:#dddddd"><use href="#i-plus"/></svg>
<span class="t" style="left:1293.2px;top:169.1px;font-size:12px;line-height:14px;font-weight:700;color:#dddddd;letter-spacing:-0.06px">TERMIN</span>
<svg class="i" style="left:1345.0px;top:170.6px;width:10.4px;height:10.4px;color:#dddddd;fill:#dddddd"><use href="#i-pencil"/></svg>
<span class="t" style="left:1372.0px;top:169.1px;font-size:12px;line-height:14px;font-weight:700;color:#dddddd;letter-spacing:-0.53px">STOPER</span>
<svg class="i" style="left:1424.0px;top:170.6px;width:10.4px;height:10.4px;color:#dddddd;fill:#dddddd"><use href="#i-pencil"/></svg>
<span class="t" style="left:1443.4px;top:169.1px;font-size:12px;line-height:14px;font-weight:700;color:#dddddd;letter-spacing:-0.11px">NAJBLIŻSZY TERMIN</span>
<span class="t" style="left:1570.0px;top:169.1px;font-size:12px;line-height:14px;font-weight:700;color:#dddddd;letter-spacing:0.33px">UTWORZONO</span>
<span class="t" style="left:1293.2px;top:195.2px;font-size:14.3px;line-height:17px;font-weight:700;color:#f83333;letter-spacing:-0.05px">10.12.2025</span>
<div class="b" style="left:1372px;top:190px;width:53px;height:28px;background:#9f9f9f;border-radius:3px"></div>
<svg class="i" style="left:1377.0px;top:199.3px;width:6.6px;height:9.4px;color:#212f3e;fill:#212f3e"><use href="#i-play"/></svg>
<span class="t" style="left:1385.5px;top:195.5px;font-size:14.3px;line-height:17px;color:#1f2c3b;letter-spacing:-0.07px">00:00</span>
<span class="t" style="left:1443.4px;top:195.2px;font-size:14.3px;line-height:17px;font-weight:700;color:#f83333;letter-spacing:-0.09px">10.12.2025</span>
<svg class="i av" style="left:1570px;top:190px;width:28px;height:28px"><use href="#av1"/></svg>
<span class="t" style="left:1602.0px;top:197.2px;font-size:12.6px;line-height:15px;color:#dcdcdc">rok temu</span>
<span class="t" style="left:1104.9px;top:225.0px;font-size:12px;line-height:14px;font-weight:700;color:#dddddd;letter-spacing:0.09px">ZAKTUALIZOWANO</span>
<svg class="i av" style="left:1105px;top:246px;width:28px;height:28px"><use href="#av1"/></svg>
<span class="t" style="left:1137.5px;top:253.2px;font-size:12.6px;line-height:15px;color:#dcdcdc;letter-spacing:-0.14px">miesiąc temu</span>
<div class="b hr" style="left:1105px;top:286px;width:620px;height:1px;background:#2b3d52"></div>
<svg class="i" style="left:1104.9px;top:302.3px;width:20px;height:15.6px;color:#e4e4e4;fill:#e4e4e4"><use href="#i-barsb"/></svg>
<span class="t" style="left:1129.6px;top:300.5px;font-size:16px;line-height:19px;font-weight:700;color:#e4e4e4;letter-spacing:-0.79px">Opis</span>
<svg class="i" style="left:1167.9px;top:305.8px;width:10.4px;height:10.4px;color:#e4e4e4;fill:#e4e4e4"><use href="#i-pencil"/></svg>
<div class="b" style="left:1710px;top:312px;width:10.5px;height:2.4px;background:#eeeeee;border-radius:1px"></div>
<div class="b" style="left:1105px;top:327px;width:620px;height:40px;background:#17222c;border-radius:3px"></div>
<span class="t" style="left:1115.4px;top:336.6px;font-size:14.6px;line-height:18px;color:#dcdcdc;letter-spacing:0.01px">sdffdsw</span>
<div class="b hr" style="left:1105px;top:383px;width:620px;height:1px;background:#2b3d52"></div>
<svg class="i" style="left:1106.0px;top:400.6px;width:18px;height:13px;color:#e4e4e4;fill:#e4e4e4"><use href="#i-checkb"/></svg>
<span class="t" style="left:1129.2px;top:399.0px;font-size:16px;line-height:19px;font-weight:700;color:#e4e4e4;letter-spacing:-0.28px">Zadania</span>
<svg class="i" style="left:1193.0px;top:403.3px;width:10.6px;height:10.6px;color:#e4e4e4;fill:#e4e4e4"><use href="#i-plus"/></svg>
<div class="b" style="left:1710px;top:410px;width:10.5px;height:2.4px;background:#eeeeee;border-radius:1px"></div>
<div class="b" style="left:1105px;top:428px;width:620px;height:35.5px;background:#17222c;border-radius:3px"></div>
<span class="t" style="left:1113.5px;top:437.7px;font-size:14.4px;line-height:17px;color:#dcdcdc;letter-spacing:-0.09px">Dodaj zadanie</span>
<div class="b hr" style="left:1105px;top:480px;width:620px;height:1px;background:#2b3d52"></div>
<svg class="i" style="left:1105.5px;top:493.8px;width:19px;height:20px;color:#e4e4e4;fill:#e4e4e4"><use href="#i-clip"/></svg>
<span class="t" style="left:1129.2px;top:496.0px;font-size:16px;line-height:19px;font-weight:700;color:#e4e4e4;letter-spacing:-0.13px">Załączniki</span>
<span class="t" style="left:1209.3px;top:497.5px;font-size:14.4px;line-height:17px;font-weight:700;color:#939393;letter-spacing:-0.15px">(1)</span>
<svg class="i" style="left:1232.0px;top:500.3px;width:10.6px;height:10.6px;color:#e4e4e4;fill:#e4e4e4"><use href="#i-plus"/></svg>
<div class="b" style="left:1710px;top:507px;width:10.5px;height:2.4px;background:#eeeeee;border-radius:1px"></div>
<div class="b" style="left:1105px;top:521px;width:112px;height:80px;background:#1d2835;border-radius:3px"></div>
<span class="t" style="left:1144.7px;top:550.0px;font-size:18px;line-height:22px;font-weight:700;color:#66768f;letter-spacing:-0.55px">TXT</span>
<span class="t" style="left:1233.5px;top:528.7px;font-size:14px;line-height:17px;font-weight:700;color:#f0f0f0;letter-spacing:-0.09px">wiersz.txt</span>
<span class="t" style="left:1233.5px;top:548.5px;font-size:14px;line-height:17px;color:#7b8ea2;letter-spacing:-0.09px">4.12.2024 19:10</span>
<div class="b" style="left:1105px;top:609px;width:620px;height:35.5px;background:#17222c;border-radius:3px"></div>
<span class="t" style="left:1113.5px;top:618.5px;font-size:14.4px;line-height:17px;color:#dcdcdc;letter-spacing:0.02px">Dodaj załącznik</span>
<div class="b hr" style="left:1105px;top:653px;width:620px;height:1px;background:#2b3d52"></div>
<svg class="i" style="left:1104.9px;top:667.9px;width:20px;height:17.8px;color:#e4e4e4;fill:#e4e4e4"><use href="#i-comment"/></svg>
<span class="t" style="left:1129.6px;top:669.0px;font-size:16px;line-height:19px;font-weight:700;color:#e4e4e4;letter-spacing:-0.12px">Komentarze</span>
<span class="t" style="left:1224.8px;top:670.5px;font-size:14.4px;line-height:17px;font-weight:700;color:#939393;letter-spacing:-0.05px">(1)</span>
<svg class="i" style="left:1248.0px;top:673.3px;width:10.6px;height:10.6px;color:#e4e4e4;fill:#e4e4e4"><use href="#i-plus"/></svg>
<div class="b" style="left:1710px;top:677px;width:10.5px;height:2.4px;background:#eeeeee;border-radius:1px"></div>
<div class="b" style="left:1105px;top:695px;width:620px;height:36px;background:#17222c;border-radius:3px"></div>
<span class="t" style="left:1113.5px;top:703.5px;font-size:14.4px;line-height:17px;color:#dcdcdc;letter-spacing:0.12px">Dodaj komentarz</span>
<svg class="i av" style="left:1105px;top:751px;width:24px;height:24px"><use href="#av1"/></svg>
<span class="t" style="left:1137.2px;top:754.1px;font-size:14px;line-height:17px;font-weight:700;color:#f0f0f0;letter-spacing:-0.12px">James Tortuga</span>
<span class="t" style="left:1242.9px;top:756.3px;font-size:12px;line-height:14px;color:#a8a8a8;letter-spacing:-0.09px">4.12.2024 19:10</span>
<svg class="i" style="left:1669.6px;top:756.7px;width:10.6px;height:10.6px;color:#a8a8a8;fill:#a8a8a8"><use href="#i-pencil"/></svg>
<svg class="i" style="left:1689.6px;top:756.5px;width:10.8px;height:10.8px;color:#a8a8a8;fill:#a8a8a8"><use href="#i-activity"/></svg>
<svg class="i" style="left:1711.0px;top:757.0px;width:8.2px;height:9.6px;color:#a8a8a8;fill:#a8a8a8"><use href="#i-trash"/></svg>
<div class="b" style="left:1105px;top:781px;width:620px;height:39.5px;background:#17222c;border-radius:3px"></div>
<span class="t" style="left:1115.4px;top:791.5px;font-size:14.2px;line-height:17px;color:#dcdcdc;letter-spacing:-0.42px">daasd</span>
<div class="b hr" style="left:1105px;top:845px;width:620px;height:1px;background:#2b3d52"></div>
</aside>
</div>
</body>
</html>
